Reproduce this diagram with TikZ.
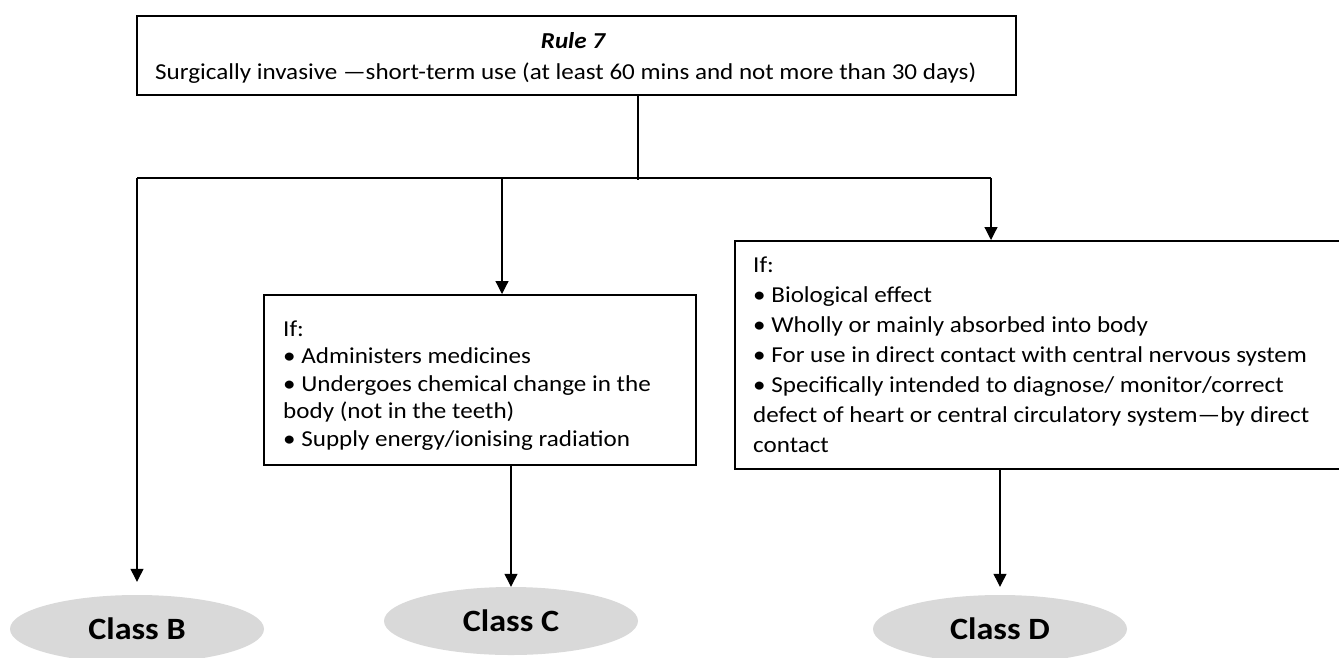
\documentclass[tikz,border=0pt]{standalone}
\usepackage{fontspec}
\setmainfont[FakeStretch=1.1]{Carlito}
\usetikzlibrary{arrows.meta,shapes.geometric}
\begin{document}
\begin{tikzpicture}[x=1pt,y=-1pt,
  box/.style={draw, line width=1.8pt, inner sep=0pt, anchor=north west},
  conn/.style={line width=1.2pt},
  arr/.style={conn, -{Triangle[width=13pt,length=13pt]}},
  cls/.style={ellipse, fill=black!15, minimum width=254pt, minimum height=68pt, inner sep=0pt, font=\fontsize{31}{36}\selectfont\bfseries},
  txt/.style={inner sep=0pt, anchor=base west, font=\fontsize{22.8}{27}\selectfont}
]
\useasboundingbox (0,0) rectangle (1339,657);

% boxes
\node[box, minimum width=879pt, minimum height=79pt] (rule) at (136,15) {};
\node[txt, anchor=base, font=\fontsize{22.8}{27}\selectfont\bfseries\itshape] (ruletitle) at (573,48) {Rule 7};
\node[txt] (ruletext) at (155,79) {Surgically invasive —short-term use (at least 60 mins and not more than 30 days)};

\node[box, minimum width=432pt, minimum height=170pt] (cbox) at (263,294) {};
\node[txt] (ctext) at (283,336) {\parbox[t]{420pt}{\fontsize{22.8}{27.5}\selectfont If:\\• Administers medicines\\• Undergoes chemical change in the\\body (not in the teeth)\\• Supply energy/ionising radiation}};

\node[box, minimum width=620pt, minimum height=228pt] (rbox) at (734,240) {};
\node[txt] (rtext) at (753,272) {\parbox[t]{590pt}{\fontsize{22.8}{30}\selectfont If:\\• Biological effect\\• Wholly or mainly absorbed into body\\• For use in direct contact with central nervous system\\• Specifically intended to diagnose/ monitor/correct\\defect of heart or central circulatory system—by direct\\contact}};

% class ellipses
\node[cls] (clsB) at (137,629) {Class B};
\node[cls] (clsC) at (511,621) {Class C};
\node[cls] (clsD) at (1000,629) {Class D};

% junction points
\coordinate (jc) at (638,178);
\coordinate (jl) at (137,178);
\coordinate (jm) at (502,178);
\coordinate (jr) at (991,178);

% connectors
\draw[conn] (rule.south -| jc) -- ([yshift=-2pt]jc);
\draw[conn] (jl) -- (jr);
\draw[arr] (jl) -- ([yshift=13pt]clsB.north);
\draw[arr] (jm) -- (cbox.north -| jm);
\draw[arr] (jr) -- (rbox.north -| jr);
\draw[arr] (cbox.south -| clsC.north) -- (clsC.north);
\draw[arr] (rbox.south -| clsD.north) -- ([yshift=8pt]clsD.north);
\end{tikzpicture}
\end{document}
